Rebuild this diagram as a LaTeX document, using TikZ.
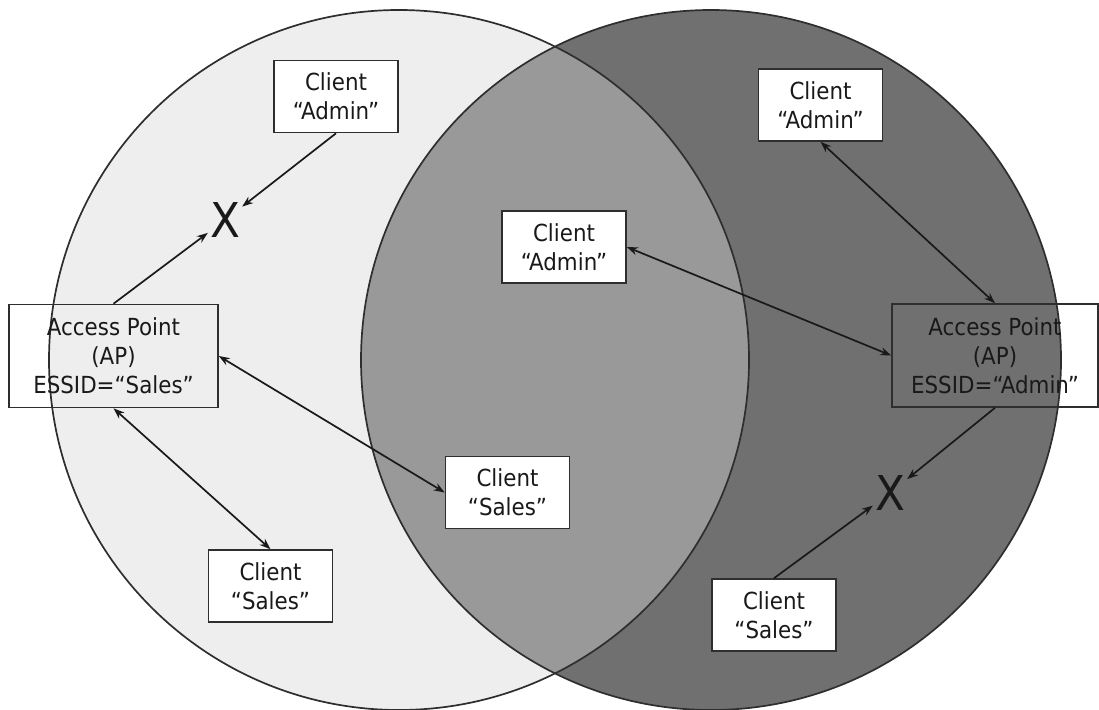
\documentclass[tikz,border=0pt]{standalone}
\usepackage{fontspec}
\setmainfont{DejaVu Sans}[FakeStretch=0.91]
\usetikzlibrary{arrows.meta}

\definecolor{cellA}{gray}{0.935}
\definecolor{cellB}{gray}{0.44}
\definecolor{cellAB}{gray}{0.60}
\definecolor{edge}{gray}{0.18}

\begin{document}
\begin{tikzpicture}[x=1pt,y=-1pt,
  txt/.style={font=\fontsize{23.5}{29}\selectfont, align=center, text=black!90},
  client/.style={txt, draw=edge, line width=1.6pt, fill=white, inner sep=0pt,
                 minimum width=124pt, minimum height=72pt},
  apbox/.style={txt, draw=edge, line width=1.6pt, inner sep=0pt,
                minimum height=103pt},
  block/.style={font=\fontsize{48}{48}\selectfont, text=black!90, inner sep=2pt},
  tip/.style={Stealth[length=11pt,width=8pt]},
  link/.style={line width=1.7pt, draw=black!90, -{Stealth[length=11pt,width=8pt]}},
  dlink/.style={line width=1.7pt, draw=black!90, {Stealth[length=11pt,width=8pt]}-{Stealth[length=11pt,width=8pt]}}
]
\useasboundingbox (0,0) rectangle (1099,709);
\fill[white] (0,0) rectangle (1099,709);

% coverage areas of the two access points
\fill[cellA] (399,360) circle[radius=350];
\fill[cellB] (711,360) circle[radius=350];
\begin{scope}
  \clip (399,360) circle[radius=350];
  \fill[cellAB] (711,360) circle[radius=350];
\end{scope}
\draw[edge, line width=1.7pt] (399,360) circle[radius=350];
\draw[edge, line width=1.7pt] (711,360) circle[radius=350];

% access points
\node[apbox, minimum width=209pt] (apL) at (113.5,356) {Access Point\\(AP)\\ESSID=“Sales”};
\node[apbox, minimum width=206pt] (apR) at (995,355.5) {Access Point\\(AP)\\ESSID=“Admin”};

% clients
\node[client] (cAl) at (336,96.5) {Client\\“Admin”};
\node[client] (cAm) at (564,247) {Client\\“Admin”};
\node[client] (cAr) at (820.5,105) {Client\\“Admin”};
\node[client] (cSm) at (507.5,492.5) {Client\\“Sales”};
\node[client] (cSl) at (270.5,586) {Client\\“Sales”};
\node[client] (cSr) at (774,615) {Client\\“Sales”};

% refused associations
\node[block] (xL) at (225,220) {X};
\node[block] (xR) at (890,493) {X};

% connections
\draw[link] (cAl.south) -- (xL);
\draw[link] (apL.north) -- (xL);
\draw[dlink] (apL.east) -- (cSm.west);
\draw[dlink] (apL.south) -- (cSl.north);
\draw[dlink] (cAm.east) -- (apR.west);
\draw[dlink] (cAr.south) -- (apR.north);
\draw[link] (apR.south) -- (xR);
\draw[link] (cSr.north) -- (xR);
\end{tikzpicture}
\end{document}
